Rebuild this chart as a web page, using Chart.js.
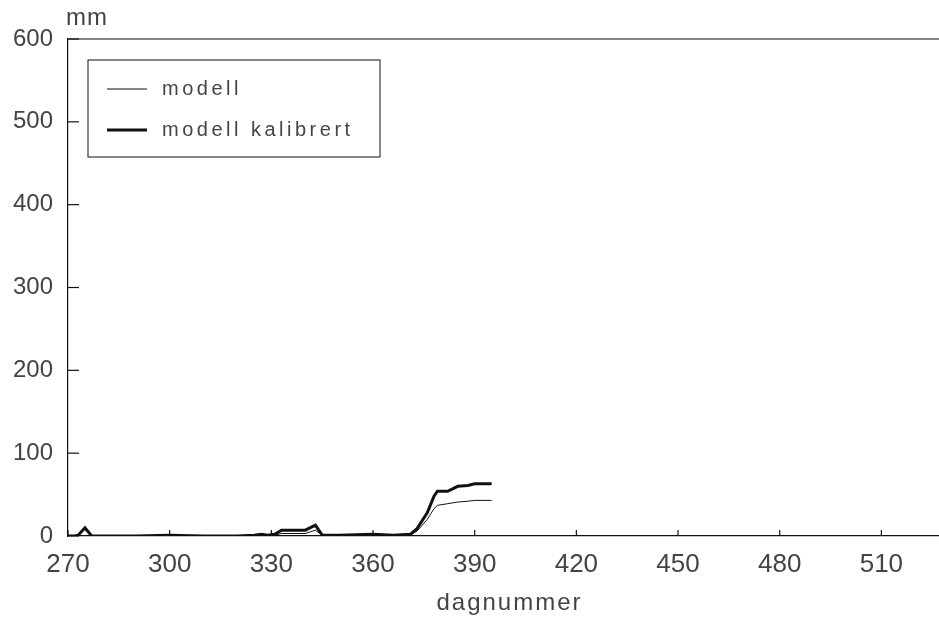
<!DOCTYPE html>
<html>
<head>
<meta charset="utf-8">
<script src="https://cdn.jsdelivr.net/npm/chart.js@4/dist/chart.umd.min.js"></script>
<style>
  html, body { margin: 0; padding: 0; background: #fff; }
  #wrap { width: 939px; height: 618px; }
</style>
</head>
<body>
<div id="wrap"><canvas id="chart" width="939" height="618"></canvas></div>
<script>
// values
const days      = [270, 272, 273, 275, 277, 279, 290, 300, 310, 320, 325, 327, 329, 331, 333, 340, 343, 345, 350, 360, 366, 371, 373, 376, 378, 379, 382, 385, 388, 390, 395];
const modell    = [0, 0, 1, 8, 0, 0, 0, 1, 0, 0, 1, 1, 1, 1, 3, 3, 7, 1, 1, 1, 1, 1, 6, 20, 33, 37, 39, 41, 42, 43, 43];
const kalibrert = [0, 0, 1, 10, 0, 0, 0, 1, 0, 0, 1, 2, 1, 2, 7, 7, 13, 1, 1, 2, 1, 2, 9, 28, 48, 54, 54, 60, 61, 63, 63];

const xTickValues = [270, 300, 330, 360, 390, 420, 450, 480, 510];
const yTickValues = [0, 100, 200, 300, 400, 500, 600];

const labels = ['modell', 'modell kalibrert'];

function toPoints(ys) {
    return days.map((d, i) => ({ x: d, y: ys[i] }));
}

const INK = '#111';
const TEXT = '#444';
const FONT = '"Liberation Sans", Arial, sans-serif';

// inner tick marks, top frame, axis texts and the boxed legend
const framePlugin = {
    id: 'frame',
    afterDraw(chart) {
        const ctx = chart.ctx;
        const area = chart.chartArea;
        const xs = chart.scales.x;
        const ys = chart.scales.y;
        ctx.save();
        ctx.strokeStyle = INK;
        ctx.lineWidth = 1.2;

        // top frame line
        ctx.beginPath();
        ctx.moveTo(area.left, area.top);
        ctx.lineTo(area.right, area.top);
        ctx.stroke();

        // y ticks pointing inwards
        yTickValues.forEach(v => {
            const py = ys.getPixelForValue(v);
            ctx.beginPath();
            ctx.moveTo(area.left, py);
            ctx.lineTo(area.left + 11, py);
            ctx.stroke();
        });
        // x ticks pointing up
        xTickValues.forEach(v => {
            const px = xs.getPixelForValue(v);
            ctx.beginPath();
            ctx.moveTo(px, area.bottom);
            ctx.lineTo(px, area.bottom - 6);
            ctx.stroke();
        });

        // unit label and axis title
        ctx.fillStyle = TEXT;
        ctx.font = '24px ' + FONT;
        ctx.textBaseline = 'alphabetic';
        ctx.textAlign = 'left';
        ctx.letterSpacing = '1px';
        ctx.fillText('mm', 66, 25);
        ctx.letterSpacing = '2px';
        ctx.textAlign = 'center';
        ctx.fillText('dagnummer', (area.left + area.right) / 2 + 6, 610);

        // legend
        ctx.textAlign = 'left';
        ctx.lineWidth = 1;
        ctx.strokeRect(88, 60, 292, 97);
        ctx.font = '20px ' + FONT;
        ctx.letterSpacing = '3.5px';
        ctx.textBaseline = 'middle';
        const rows = [89, 130];
        chart.data.datasets.forEach((ds, i) => {
            ctx.strokeStyle = ds.borderColor;
            ctx.lineWidth = ds.borderWidth;
            ctx.beginPath();
            ctx.moveTo(107, rows[i]);
            ctx.lineTo(147, rows[i]);
            ctx.stroke();
            ctx.fillText(ds.label, 162, rows[i]);
        });
        ctx.letterSpacing = '0px';
        ctx.restore();
    }
};

new Chart(document.getElementById('chart'), {
    type: 'line',
    data: {
        datasets: [
            {
                label: labels[0],
                data: toPoints(modell),
                borderColor: INK,
                borderWidth: 1,
                pointRadius: 0,
                tension: 0,
                fill: false
            },
            {
                label: labels[1],
                data: toPoints(kalibrert),
                borderColor: INK,
                borderWidth: 3,
                pointRadius: 0,
                tension: 0,
                fill: false
            }
        ]
    },
    options: {
        responsive: false,
        animation: false,
        layout: { padding: { top: 39, left: 0, right: 0, bottom: 0 } },
        plugins: {
            legend: { display: false },
            tooltip: { enabled: false }
        },
        scales: {
            x: {
                type: 'linear',
                min: 270,
                max: 527,
                afterFit(scale) { scale.height = 82; },
                afterBuildTicks(scale) { scale.ticks = xTickValues.map(v => ({ value: v })); },
                grid: { display: false, drawTicks: false },
                border: { color: INK, width: 1.2 },
                ticks: {
                    padding: 13,
                    color: TEXT,
                    maxRotation: 0,
                    autoSkip: false,
                    font: { family: FONT, size: 26 }
                }
            },
            y: {
                type: 'linear',
                min: 0,
                max: 600,
                afterFit(scale) { scale.width = 68; },
                afterBuildTicks(scale) { scale.ticks = yTickValues.map(v => ({ value: v })); },
                grid: { display: false, drawTicks: false },
                border: { color: INK, width: 1.2 },
                ticks: {
                    padding: 15,
                    color: TEXT,
                    font: { family: FONT, size: 24 }
                }
            }
        }
    },
    plugins: [framePlugin]
});
</script>
</body>
</html>
